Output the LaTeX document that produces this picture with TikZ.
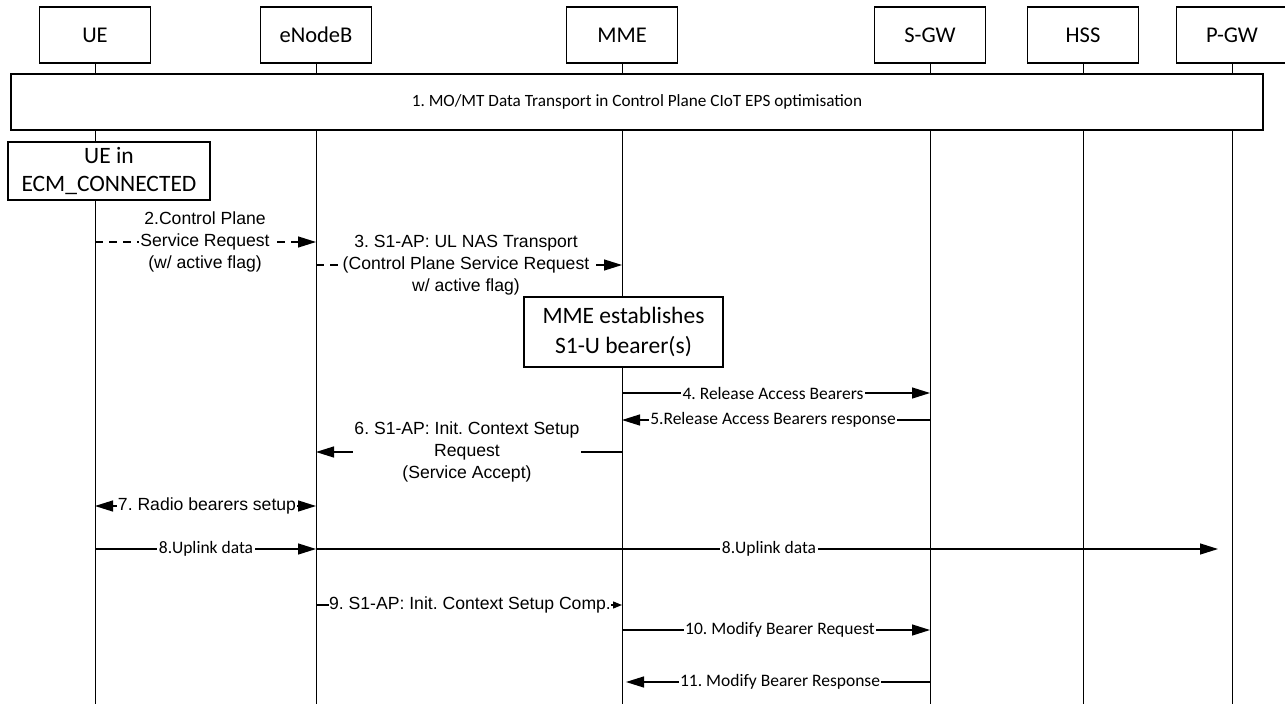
\documentclass[tikz,border=0pt]{standalone}
\usepackage{fontspec}
\setmainfont{Carlito}
\newfontfamily\arialf{Liberation Sans}
\usetikzlibrary{arrows.meta}
\frenchspacing
\begin{document}
\begin{tikzpicture}[x=1pt,y=-1pt,
  actor/.style={draw, line width=1.2pt, fill=white, minimum width=111pt, minimum height=56pt, inner sep=0pt, font=\fontsize{22.5}{26}\selectfont},
  life/.style={line width=1pt},
  msg/.style={line width=1.3pt, -{Triangle[length=18pt,width=11pt]}},
  dmsg/.style={msg, dash pattern=on 8pt off 6pt},
  clbl/.style={fill=white, inner sep=1.5pt, font=\fontsize{17.5}{21}\selectfont},
  albl/.style={fill=white, inner sep=1pt, align=center, font=\arialf\fontsize{17.6}{22}\selectfont},
  bigbox/.style={draw, line width=1.2pt, fill=white, align=center, inner sep=0pt}
]
\useasboundingbox (0,0) rectangle (1285,704);
% actors
\node[actor] (ue)  at (95,35)   {UE};
\node[actor] (enb) at (316,35)  {eNodeB};
\node[actor] (mme) at (622,35)  {MME};
\node[actor] (sgw) at (930,35)  {S-GW};
\node[actor] (hss) at (1083,35) {HSS};
\node[actor] (pgw) at (1232,35) {P-GW};
% lifelines
\foreach \a in {ue,enb,mme,sgw,hss,pgw}{
  \coordinate (\a end) at (\a |- 0,704);
  \draw[life] (\a.south) -- (\a end);
}
% boxes
\node[bigbox, minimum width=1252pt, minimum height=56pt, font=\fontsize{17.2}{20}\selectfont] (s1) at (637,102)
  {1. MO/MT Data Transport in Control Plane CIoT EPS optimisation};
\node[bigbox, minimum width=202pt, minimum height=58pt, font=\fontsize{23.5}{28}\selectfont] (uecm) at (109,171)
  {UE in\\ECM\_CONNECTED};
\node[bigbox, minimum width=199pt, minimum height=70pt, font=\fontsize{23.5}{30}\selectfont] (est) at (623.5,332)
  {MME establishes\\S1-U bearer(s)};
% 2
\draw[dmsg] (ue |- 0,242) -- (enb |- 0,242);
\node[albl] (l2) at (205,242) {2.Control Plane\\Service Request\\(w/ active flag)};
% 3
\draw[dmsg] (enb |- 0,265) -- (mme |- 0,265);
\node[albl] (l3) at (466,265) {3. S1-AP: UL NAS Transport\\(Control Plane Service Request\\w/ active flag)};
% 4
\draw[msg] (mme |- 0,393) -- (sgw |- 0,393);
\node[clbl] (l4) at (773,393) {4. Release Access Bearers};
% 5
\draw[msg] (sgw |- 0,420) -- (mme |- 0,420);
\node[clbl] (l5) at (773,420) {5.Release Access Bearers response};
% 6
\draw[msg] (mme |- 0,452) -- (enb |- 0,452);
\node[albl] (l6) at (467,452) {6. S1-AP: Init. Context Setup\\Request\\(Service Accept)};
% 7
\draw[msg, {Triangle[length=18pt,width=11pt]}-{Triangle[length=18pt,width=11pt]}] (ue |- 0,506) -- (enb |- 0,506);
\node[albl] (l7) at (207,506) {7. Radio bearers setup};
% 8
\draw[msg] (ue |- 0,549) -- (enb |- 0,549);
\node[clbl] (l8a) at (206,549) {8.Uplink data};
\coordinate (u8end) at (1218,549);
\draw[msg] (enb |- 0,549) -- (u8end);
\node[clbl] (l8b) at (769,549) {8.Uplink data};
% 9
\draw[line width=1.3pt, -{Triangle[length=9pt,width=7pt]}] (enb |- 0,605) -- (mme |- 0,605);
\node[albl, inner sep=0.5pt] (l9) at (470,605) {9. S1-AP: Init. Context Setup Comp.};
% 10
\draw[msg] (mme |- 0,630) -- (sgw |- 0,630);
\node[clbl] (l10) at (780,630) {10. Modify Bearer Request};
% 11
\coordinate (m11end) at (626,682);
\draw[msg] (sgw |- 0,682) -- (m11end);
\node[clbl] (l11) at (780,682) {11. Modify Bearer Response};
\end{tikzpicture}
\end{document}
